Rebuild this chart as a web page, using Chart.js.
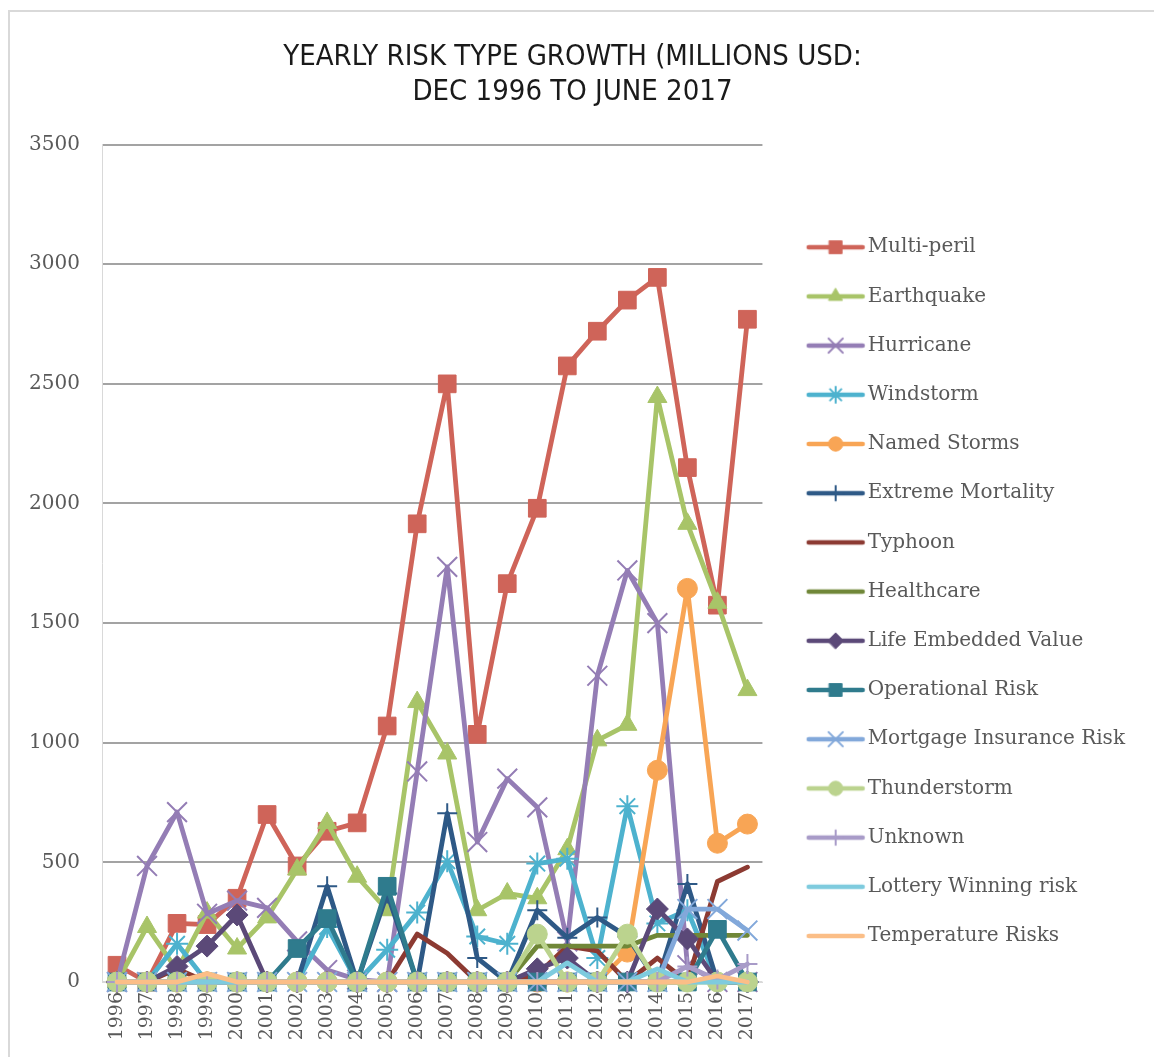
<!DOCTYPE html>
<html>
<head>
<meta charset="utf-8">
<script src="https://cdn.jsdelivr.net/npm/chart.js@4.4.1/dist/chart.umd.min.js"></script>
<style>
  html, body { margin: 0; padding: 0; background: #fff; overflow: hidden; }
  #frame { position: absolute; left: 8px; top: 10px; width: 1200px; height: 1100px; border: 2px solid #d9d9d9; }
  #chart { position: absolute; left: 10px; top: 12px; }
</style>
</head>
<body>
<div id="frame"></div>
<canvas id="chart" width="1144" height="1045"></canvas>
<script>
const years = ['1996', '1997', '1998', '1999', '2000', '2001', '2002', '2003', '2004', '2005', '2006',
               '2007', '2008', '2009', '2010', '2011', '2012', '2013', '2014', '2015', '2016', '2017'];

const multiPeril       = [70, 0, 245, 240, 350, 700, 485, 630, 665, 1070, 1915, 2500, 1035, 1665, 1980, 2575, 2720, 2850, 2945, 2150, 1575, 2770];
const earthquake       = [0, 230, 50, 290, 140, 270, 470, 665, 440, 300, 1170, 955, 300, 370, 350, 555, 1010, 1075, 2445, 1915, 1585, 1220];
const hurricane        = [0, 485, 710, 285, 340, 310, 170, 50, 10, 0, 880, 1735, 585, 850, 730, 170, 1280, 1720, 1500, 70, 0, 0];
const windstorm        = [0, 0, 160, 0, 0, 0, 0, 230, 0, 135, 290, 505, 190, 160, 495, 515, 100, 735, 245, 300, 0, 0];
const namedStorms      = [0, 0, 0, 0, 0, 0, 0, 0, 0, 0, 0, 0, 0, 0, 0, 0, 0, 125, 885, 1645, 580, 660];
const extremeMortality = [0, 0, 0, 0, 0, 0, 0, 400, 0, 370, 0, 705, 100, 0, 300, 185, 270, 190, 0, 410, 0, 0];
const typhoon          = [0, 0, 55, 0, 0, 0, 0, 0, 0, 0, 200, 120, 0, 0, 30, 150, 130, 0, 100, 0, 420, 480];
const healthcare       = [0, 0, 0, 0, 0, 0, 0, 0, 0, 0, 0, 0, 0, 0, 150, 150, 150, 150, 195, 195, 195, 195];
const lifeEmbedded     = [0, 0, 65, 150, 280, 0, 0, 0, 0, 0, 0, 0, 0, 0, 55, 100, 0, 0, 305, 180, 0, 0];
const operational      = [0, 0, 0, 0, 0, 0, 140, 265, 0, 400, 0, 0, 0, 0, 0, 0, 0, 0, 0, 0, 220, 0];
const mortgage         = [0, 0, 0, 0, 0, 0, 0, 0, 0, 0, 0, 0, 0, 0, 0, 0, 0, 0, 0, 305, 305, 215];
const thunderstorm     = [0, 0, 0, 0, 0, 0, 0, 0, 0, 0, 0, 0, 0, 0, 200, 0, 0, 200, 0, 0, 0, 0];
const unknown          = [0, 0, 0, 0, 0, 0, 0, 0, 0, 0, 0, 0, 0, 0, 0, 0, 0, 0, 0, 65, 10, 75];
const lottery          = [0, 0, 0, 0, 0, 0, 0, 0, 0, 0, 0, 0, 0, 0, 0, 80, 0, 0, 55, 0, 0, 0];
const temperature      = [0, 0, 0, 35, 0, 0, 0, 0, 0, 0, 0, 0, 0, 0, 0, 0, 0, 0, 0, 0, 25, 0];

const seriesNames = ['Multi-peril', 'Earthquake', 'Hurricane', 'Windstorm', 'Named Storms', 'Extreme Mortality',
  'Typhoon', 'Healthcare', 'Life Embedded Value', 'Operational Risk', 'Mortgage Insurance Risk',
  'Thunderstorm', 'Unknown', 'Lottery Winning risk', 'Temperature Risks'];
const seriesValues = [multiPeril, earthquake, hurricane, windstorm, namedStorms, extremeMortality, typhoon,
  healthcare, lifeEmbedded, operational, mortgage, thunderstorm, unknown, lottery, temperature];
const yTicks = [0, 500, 1000, 1500, 2000, 2500, 3000, 3500];

// styling per series (same order as names)
const colors = ['#cf6459', '#a8c468', '#947db5', '#4db2ce', '#f8a555', '#2e5986', '#8c3a32', '#708738',
  '#5b4978', '#2f7b8d', '#82a8da', '#bbd38e', '#a89bc8', '#7ecbde', '#fbbe87'];
const markers = ['rect', 'triangle', 'crossRot', 'star', 'circle', 'cross', false, false,
  'rectRot', 'rect', 'crossRot', 'circle', 'cross', false, false];
const markerSizes = [12.5, 11, 14, 11, 10, 10, 0, 0, 11, 12.5, 14, 10, 10, 0, 0];
const strokeOnly = ['crossRot', 'star', 'cross'];

const serif = "'DejaVu Serif', 'Liberation Serif', serif";

function legendIcon(i) {
  const c = document.createElement('canvas');
  c.width = 100; c.height = 28;
  const g = c.getContext('2d');
  g.strokeStyle = colors[i];
  g.fillStyle = colors[i];
  g.lineWidth = 4.5;
  g.lineCap = 'round';
  g.beginPath(); g.moveTo(34, 14); g.lineTo(88, 14); g.stroke();
  if (markers[i] && Chart.helpers && Chart.helpers.drawPoint) {
    const bw = strokeOnly.includes(markers[i]) ? 2 : 1;
    g.lineWidth = bw;
    Chart.helpers.drawPoint(g, {pointStyle: markers[i], radius: markerSizes[i] * 0.72, borderWidth: bw, rotation: 0}, 61, 14);
  }
  return c;
}

const datasets = seriesNames.map((name, i) => ({
  label: name,
  data: seriesValues[i],
  borderColor: colors[i],
  backgroundColor: colors[i],
  borderWidth: 4.8,
  borderJoinStyle: 'round',
  borderCapStyle: 'round',
  pointStyle: markers[i] || 'circle',
  pointRadius: markers[i] ? markerSizes[i] : 0,
  pointHoverRadius: markers[i] ? markerSizes[i] : 0,
  pointBorderWidth: strokeOnly.includes(markers[i]) ? 2 : 1,
  pointBackgroundColor: colors[i],
  pointBorderColor: colors[i],
  tension: 0,
  fill: false,
  clip: false,
  order: seriesNames.length - i
}));

new Chart(document.getElementById('chart'), {
  type: 'line',
  data: { labels: years, datasets: datasets },
  options: {
    responsive: false,
    animation: false,
    devicePixelRatio: 1,
    layout: { padding: { left: 0, right: 19, top: 0, bottom: 0 } },
    plugins: {
      tooltip: { enabled: false },
      title: {
        display: true,
        text: ['YEARLY RISK TYPE GROWTH (MILLIONS USD:', 'DEC 1996 TO JUNE 2017'],
        color: '#1a1a1a',
        font: { family: "'Liberation Sans Narrow', 'DejaVu Sans Condensed', 'Liberation Sans', sans-serif", size: 29, weight: 'normal', lineHeight: 1.2 },
        padding: { top: 28, bottom: 35 }
      },
      legend: {
        position: 'right',
        align: 'start',
        maxWidth: 400,
        title: { display: true, text: ' ', font: { size: 10, lineHeight: 1 }, padding: { top: 186, bottom: 0 } },
        labels: {
          usePointStyle: true,
          pointStyleWidth: 66,
          padding: 29.2,
          color: '#595959',
          font: { family: serif, size: 20 },
          generateLabels: chart => chart.data.datasets.map((ds, i) => ({
            text: ds.label,
            fillStyle: ds.borderColor,
            strokeStyle: ds.borderColor,
            fontColor: '#595959',
            lineWidth: 0,
            pointStyle: legendIcon(i),
            datasetIndex: i,
            hidden: false
          }))
        }
      }
    },
    scales: {
      x: {
        offset: true,
        grid: { color: 'rgba(0,0,0,0)', drawTicks: false },
        border: { display: true, color: '#d9d9d9', width: 1 },
        ticks: { autoSkip: false, minRotation: 90, maxRotation: 90, padding: 10, color: '#595959', font: { family: serif, size: 19 } },
        afterFit: s => { s.height = 75; }
      },
      y: {
        min: yTicks[0],
        max: yTicks[yTicks.length - 1],
        afterBuildTicks: s => { s.ticks = yTicks.map(v => ({ value: v })); },
        grid: { color: c => (c.tick && c.tick.value === 0 ? '#d9d9d9' : '#a3a3a3'), lineWidth: 2, drawTicks: false },
        border: { display: true, color: '#d9d9d9', width: 1 },
        ticks: { padding: 22, color: '#595959', font: { family: serif, size: 20 }, callback: v => String(v) },
        afterFit: s => { s.width = 92; }
      }
    }
  }
});
</script>
</body>
</html>
